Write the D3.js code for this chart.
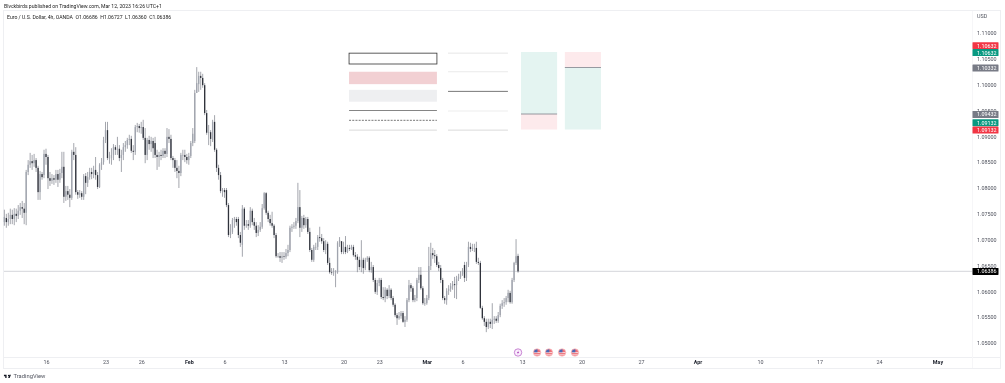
<!DOCTYPE html>
<html>
<head>
<meta charset="utf-8">
<script src="https://cdnjs.cloudflare.com/ajax/libs/d3/7.8.5/d3.min.js"></script>
<style>
  html, body { margin: 0; background: #fff; }
  svg { display: block; font-family: Roboto, sans-serif; filter: blur(0.35px); }
</style>
</head>
<body>
<div id="chart"></div>
<script>
// EURUSD 4h bars
const opens = [
  1.0734,1.0742,1.0734,1.0740,1.0748,1.0740,1.0750,1.0746,1.0756,1.0763,
  1.0760,1.0752,1.0831,1.0845,1.0852,1.0848,1.0854,1.0839,1.0792,1.0827,
  1.0825,1.0866,1.0860,1.0819,1.0814,1.0819,1.0816,1.0827,1.0816,1.0829,
  1.0841,1.0783,1.0794,1.0787,1.0781,1.0870,1.0864,1.0792,1.0787,1.0790,
  1.0783,1.0823,1.0810,1.0821,1.0831,1.0827,1.0835,1.0825,1.0802,1.0845,
  1.0850,1.0893,1.0912,1.0858,1.0858,1.0864,1.0879,1.0874,1.0876,1.0858,
  1.0864,1.0879,1.0883,1.0893,1.0895,1.0872,1.0870,1.0918,1.0920,1.0916,
  1.0918,1.0897,1.0864,1.0893,1.0885,1.0891,1.0887,1.0864,1.0860,1.0864,
  1.0862,1.0872,1.0866,1.0899,1.0895,1.0858,1.0854,1.0839,1.0833,1.0829,
  1.0864,1.0864,1.0860,1.0854,1.0862,1.0887,1.0891,1.0984,1.1001,1.1017,
  1.1013,1.0999,1.0945,1.0907,1.0908,1.0893,1.0928,1.0874,1.0839,1.0825,
  1.0794,1.0796,1.0796,1.0767,1.0709,1.0715,1.0738,1.0740,1.0740,1.0709,
  1.0690,1.0760,1.0727,1.0730,1.0727,1.0756,1.0734,1.0727,1.0713,1.0719,
  1.0725,1.0761,1.0790,1.0752,1.0740,1.0732,1.0727,1.0709,1.0668,1.0668,
  1.0665,1.0668,1.0667,1.0674,1.0680,1.0723,1.0725,1.0727,1.0736,1.0763,
  1.0723,1.0742,1.0728,1.0740,1.0715,1.0680,1.0661,1.0686,1.0686,1.0705,
  1.0703,1.0697,1.0680,1.0692,1.0655,1.0637,1.0636,1.0636,1.0637,1.0694,
  1.0697,1.0676,1.0686,1.0676,1.0684,1.0682,1.0686,1.0670,1.0667,1.0661,
  1.0647,1.0661,1.0645,1.0661,1.0665,1.0641,1.0647,1.0622,1.0599,1.0616,
  1.0622,1.0589,1.0587,1.0603,1.0591,1.0603,1.0587,1.0574,1.0554,1.0548,
  1.0552,1.0558,1.0541,1.0545,1.0583,1.0612,1.0606,1.0583,1.0587,1.0622,
  1.0632,1.0606,1.0577,1.0577,1.0587,1.0649,1.0674,1.0670,1.0668,1.0651,
  1.0645,1.0622,1.0587,1.0583,1.0601,1.0605,1.0610,1.0614,1.0612,1.0624,
  1.0628,1.0634,1.0651,1.0626,1.0651,1.0686,1.0682,1.0684,1.0684,1.0657,
  1.0655,1.0568,1.0548,1.0541,1.0531,1.0541,1.0537,1.0545,1.0547,1.0543,
  1.0554,1.0572,1.0577,1.0579,1.0587,1.0597,1.0579,1.0622,1.0655,1.06686,
]
const highs = [
  1.0758,1.0750,1.0752,1.0760,1.0758,1.0761,1.0760,1.0767,1.0771,1.0775,
  1.0771,1.0835,1.0854,1.0868,1.0864,1.0866,1.0858,1.0843,1.0833,1.0831,
  1.0874,1.0876,1.0864,1.0831,1.0827,1.0825,1.0835,1.0835,1.0837,1.0870,
  1.0870,1.0804,1.0804,1.0798,1.0874,1.0887,1.0879,1.0796,1.0796,1.0794,
  1.0827,1.0829,1.0831,1.0839,1.0839,1.0843,1.0860,1.0831,1.0848,1.0858,
  1.0899,1.0928,1.0928,1.0870,1.0877,1.0885,1.0883,1.0899,1.0883,1.0874,
  1.0887,1.0891,1.0897,1.0903,1.0901,1.0883,1.0922,1.0926,1.0924,1.0928,
  1.0932,1.0916,1.0897,1.0901,1.0899,1.0897,1.0899,1.0874,1.0870,1.0874,
  1.0877,1.0877,1.0916,1.0914,1.0903,1.0862,1.0858,1.0854,1.0843,1.0868,
  1.0874,1.0874,1.0866,1.0868,1.0891,1.0916,1.0990,1.1034,1.1025,1.1025,
  1.1021,1.1003,1.0951,1.0922,1.0912,1.0932,1.0941,1.0877,1.0845,1.0831,
  1.0800,1.0800,1.0800,1.0771,1.0730,1.0742,1.0744,1.0744,1.0744,1.0715,
  1.0767,1.0763,1.0738,1.0738,1.0763,1.0760,1.0742,1.0734,1.0728,1.0734,
  1.0769,1.0792,1.0792,1.0756,1.0748,1.0754,1.0730,1.0713,1.0674,1.0676,
  1.0676,1.0676,1.0682,1.0690,1.0727,1.0730,1.0734,1.0742,1.0810,1.0796,
  1.0746,1.0748,1.0744,1.0744,1.0723,1.0684,1.0690,1.0694,1.0709,1.0725,
  1.0711,1.0703,1.0699,1.0696,1.0665,1.0645,1.0645,1.0641,1.0697,1.0705,
  1.0697,1.0696,1.0707,1.0690,1.0690,1.0690,1.0690,1.0676,1.0672,1.0667,
  1.0699,1.0665,1.0665,1.0668,1.0668,1.0657,1.0651,1.0626,1.0622,1.0626,
  1.0626,1.0608,1.0608,1.0606,1.0612,1.0606,1.0591,1.0577,1.0558,1.0560,
  1.0562,1.0562,1.0552,1.0587,1.0622,1.0616,1.0610,1.0593,1.0626,1.0647,
  1.0647,1.0610,1.0587,1.0593,1.0686,1.0694,1.0684,1.0680,1.0672,1.0657,
  1.0651,1.0626,1.0591,1.0606,1.0612,1.0616,1.0620,1.0628,1.0630,1.0634,
  1.0639,1.0645,1.0657,1.0657,1.0696,1.0694,1.0692,1.0692,1.0696,1.0665,
  1.0659,1.0572,1.0552,1.0547,1.0547,1.0547,1.0577,1.0552,1.0552,1.0560,
  1.0576,1.0583,1.0587,1.0591,1.0603,1.0601,1.0626,1.0657,1.0701,1.06727,
]
const lows = [
  1.0727,1.0723,1.0727,1.0730,1.0730,1.0728,1.0734,1.0740,1.0748,1.0742,
  1.0730,1.0728,1.0825,1.0839,1.0835,1.0841,1.0831,1.0777,1.0777,1.0816,
  1.0819,1.0845,1.0798,1.0804,1.0808,1.0806,1.0810,1.0802,1.0810,1.0819,
  1.0771,1.0775,1.0777,1.0763,1.0777,1.0854,1.0787,1.0779,1.0781,1.0777,
  1.0777,1.0788,1.0802,1.0816,1.0817,1.0819,1.0816,1.0798,1.0800,1.0835,
  1.0845,1.0887,1.0854,1.0847,1.0845,1.0854,1.0864,1.0864,1.0852,1.0831,
  1.0854,1.0870,1.0876,1.0883,1.0868,1.0854,1.0864,1.0908,1.0907,1.0905,
  1.0893,1.0848,1.0854,1.0874,1.0870,1.0858,1.0858,1.0835,1.0841,1.0854,
  1.0858,1.0858,1.0860,1.0887,1.0854,1.0839,1.0831,1.0819,1.0800,1.0823,
  1.0854,1.0850,1.0847,1.0845,1.0858,1.0881,1.0887,1.0984,1.0986,1.0990,
  1.0994,1.0941,1.0903,1.0883,1.0881,1.0889,1.0870,1.0831,1.0816,1.0790,
  1.0783,1.0781,1.0763,1.0705,1.0703,1.0711,1.0723,1.0727,1.0703,1.0686,
  1.0667,1.0719,1.0723,1.0719,1.0723,1.0728,1.0719,1.0705,1.0707,1.0715,
  1.0721,1.0758,1.0748,1.0734,1.0727,1.0723,1.0703,1.0665,1.0665,1.0657,
  1.0655,1.0661,1.0663,1.0668,1.0676,1.0715,1.0721,1.0721,1.0732,1.0705,
  1.0715,1.0721,1.0723,1.0711,1.0676,1.0657,1.0657,1.0680,1.0680,1.0696,
  1.0692,1.0676,1.0672,1.0651,1.0634,1.0632,1.0630,1.0608,1.0634,1.0686,
  1.0672,1.0672,1.0672,1.0674,1.0678,1.0680,1.0667,1.0661,1.0637,1.0641,
  1.0637,1.0634,1.0641,1.0657,1.0637,1.0636,1.0618,1.0595,1.0593,1.0610,
  1.0585,1.0583,1.0579,1.0585,1.0587,1.0583,1.0570,1.0550,1.0535,1.0545,
  1.0547,1.0539,1.0531,1.0541,1.0579,1.0599,1.0579,1.0579,1.0581,1.0616,
  1.0603,1.0574,1.0572,1.0574,1.0583,1.0641,1.0663,1.0655,1.0647,1.0639,
  1.0616,1.0583,1.0576,1.0574,1.0593,1.0599,1.0603,1.0587,1.0585,1.0620,
  1.0624,1.0630,1.0618,1.0620,1.0647,1.0676,1.0678,1.0676,1.0653,1.0651,
  1.0566,1.0545,1.0533,1.0521,1.0527,1.0529,1.0527,1.0537,1.0539,1.0539,
  1.0550,1.0566,1.0570,1.0574,1.0579,1.0576,1.0576,1.0618,1.0651,1.06360,
]
const closes = [
  1.0744,1.0734,1.0740,1.0748,1.0740,1.0750,1.0746,1.0756,1.0763,1.0760,
  1.0752,1.0831,1.0845,1.0852,1.0848,1.0854,1.0839,1.0792,1.0827,1.0821,
  1.0866,1.0860,1.0819,1.0814,1.0819,1.0816,1.0827,1.0816,1.0829,1.0841,
  1.0783,1.0794,1.0787,1.0781,1.0870,1.0864,1.0792,1.0787,1.0790,1.0783,
  1.0823,1.0810,1.0821,1.0831,1.0827,1.0835,1.0825,1.0802,1.0845,1.0850,
  1.0893,1.0912,1.0858,1.0858,1.0864,1.0879,1.0874,1.0876,1.0858,1.0864,
  1.0879,1.0883,1.0893,1.0895,1.0872,1.0870,1.0918,1.0920,1.0916,1.0918,
  1.0897,1.0864,1.0893,1.0885,1.0891,1.0877,1.0864,1.0860,1.0864,1.0862,
  1.0872,1.0866,1.0899,1.0895,1.0858,1.0854,1.0839,1.0833,1.0829,1.0864,
  1.0864,1.0860,1.0854,1.0862,1.0887,1.0905,1.0984,1.1003,1.1017,1.1013,
  1.0999,1.0945,1.0907,1.0908,1.0895,1.0928,1.0874,1.0839,1.0825,1.0794,
  1.0796,1.0792,1.0767,1.0709,1.0715,1.0738,1.0740,1.0734,1.0709,1.0694,
  1.0760,1.0727,1.0730,1.0727,1.0756,1.0734,1.0727,1.0713,1.0719,1.0725,
  1.0761,1.0790,1.0752,1.0740,1.0732,1.0727,1.0709,1.0668,1.0668,1.0665,
  1.0668,1.0667,1.0674,1.0680,1.0723,1.0725,1.0727,1.0736,1.0763,1.0723,
  1.0742,1.0728,1.0740,1.0715,1.0680,1.0661,1.0686,1.0686,1.0705,1.0703,
  1.0697,1.0680,1.0692,1.0655,1.0637,1.0636,1.0636,1.0637,1.0694,1.0699,
  1.0676,1.0686,1.0676,1.0684,1.0682,1.0686,1.0670,1.0667,1.0661,1.0647,
  1.0661,1.0645,1.0661,1.0665,1.0641,1.0647,1.0622,1.0599,1.0616,1.0622,
  1.0589,1.0587,1.0603,1.0591,1.0603,1.0587,1.0574,1.0554,1.0548,1.0552,
  1.0558,1.0541,1.0545,1.0583,1.0612,1.0606,1.0583,1.0587,1.0622,1.0632,
  1.0606,1.0577,1.0577,1.0587,1.0649,1.0674,1.0670,1.0668,1.0651,1.0645,
  1.0622,1.0587,1.0583,1.0601,1.0605,1.0610,1.0614,1.0612,1.0624,1.0628,
  1.0634,1.0637,1.0626,1.0651,1.0686,1.0682,1.0684,1.0684,1.0657,1.0655,
  1.0568,1.0548,1.0541,1.0531,1.0541,1.0537,1.0545,1.0547,1.0543,1.0554,
  1.0572,1.0577,1.0579,1.0587,1.0597,1.0579,1.0622,1.0655,1.0668,1.06386,
]

const priceTicks = [1.11, 1.105, 1.1, 1.095, 1.09, 1.085, 1.08, 1.075, 1.07, 1.065, 1.06, 1.055, 1.05]

// bar numbers of the time axis labels, counted from the first bar
const timeTicks = [21, 51, 69, 93, 111, 141, 171, 189, 213, 231, 261, 291, 321, 349.5, 381, 411, 441, 470.5]
const timeLabels = ['16', '23', '26', 'Feb', '6', '13', '20', '23', 'Mar', '6', '13', '20', '27', 'Apr', '10', '17', '24', 'May']
const monthLabels = ['Feb', 'Mar', 'Apr', 'May']

// price tags on the right scale
const tagPrices = [1.10632, 1.10632, 1.10332, 1.09432, 1.09132, 1.09132, 1.06386]
const tagColors = ['#f23645', '#089981', '#787b86', '#787b86', '#089981', '#f23645', '#000']
const tagNudges = [-6.3, 0.6, 0.5, 0.5, -6.8, 0.5, 0]

const lastPrice = 1.06386

// drawings, left block: rectangles and lines
const boxBars = [173.8, 218.1]
const boxTops = [1.1061, 1.1025, 1.099]
const boxBottoms = [1.104, 1.1001, 1.0967]
const boxFills = ['#fff', '#f2d0d3', '#eeeff1']
const boxStrokes = ['#333', 'none', 'none']
const leftLines = [1.095, 1.0931, 1.0912]
const leftLineColors = ['#666', '#555', '#d0d0d0']
const leftLineDashes = ['none', '2 1.2', 'none']

// drawings, middle block: fibonacci style levels
const levelBars = [223.7, 253.9]
const levelPrices = [1.1061, 1.1025, 1.0987, 1.0949, 1.0912]
const levelColors = ['#dedede', '#e4e4e4', '#555', '#e8e8e8', '#d0d0d0']

// drawings, right block: long and short position tools
const positionBars = [[260.5, 278.7], [282.6, 300.8]]
const positionTop = 1.10632
const positionEntries = [1.09432, 1.10332]
const positionBottom = 1.09132
const positionTopFills = ['#e4f4f1', '#fdeaec']
const positionBottomFills = ['#fdeaec', '#e4f4f1']

// event markers below the candles
const dividendBars = [259]
const flagBars = [268.6, 274.6, 281.2, 287.7]

const width = 1005
const height = 383
const paneLeft = 4
const paneRight = 972
const paneTop = 11
const paneBottom = 357
const frameRight = 1000
const frameBottom = 368

const upColor = '#a0a4ae'
const downColor = '#2f323b'
const wickColor = '#7d808a'
const textColor = '#50535e'

const xScale = d3.scaleLinear().domain([0, 471]).range([4.36, 938.5])
const yScale = d3.scaleLinear().domain([1.05, 1.11]).range([343, 33])

const svg = d3
  .select('#chart')
  .append('svg')
  .attr('width', width)
  .attr('height', height)

svg
  .append('text')
  .attr('x', paneLeft)
  .attr('y', 7.8)
  .attr('font-size', 5.15)
  .attr('fill', '#222')
  .text('Blvckbirds published on TradingView.com, Mar 12, 2023 16:26 UTC+1')

// frame
const frame = svg.append('g').attr('stroke', '#eeeff2').attr('fill', 'none')
frame
  .append('rect')
  .attr('x', paneLeft - 0.5)
  .attr('y', paneTop - 0.5)
  .attr('width', frameRight - paneLeft + 1)
  .attr('height', frameBottom - paneTop + 1)
frame
  .append('path')
  .attr('d', d3.line()([[paneLeft, paneBottom + 0.5], [frameRight, paneBottom + 0.5]]))
frame
  .append('path')
  .attr('d', d3.line()([[paneRight + 0.5, paneTop], [paneRight + 0.5, frameBottom]]))
  .attr('stroke', '#f6f6f8')

// last price line
svg
  .append('line')
  .attr('x1', paneLeft)
  .attr('x2', paneRight)
  .attr('y1', yScale(lastPrice))
  .attr('y2', yScale(lastPrice))
  .attr('stroke', '#dcdde1')
  .attr('stroke-width', 1.2)

// left block
const drawings = svg.append('g').attr('class', 'drawings')
drawings
  .selectAll('rect.box')
  .data(boxTops)
  .join('rect')
  .attr('class', 'box')
  .attr('x', xScale(boxBars[0]))
  .attr('width', xScale(boxBars[1]) - xScale(boxBars[0]))
  .attr('y', d => yScale(d))
  .attr('height', (d, i) => yScale(boxBottoms[i]) - yScale(d))
  .attr('fill', (d, i) => boxFills[i])
  .attr('stroke', (d, i) => boxStrokes[i])
  .attr('stroke-width', 0.8)

drawings
  .selectAll('line.left-line')
  .data(leftLines)
  .join('line')
  .attr('class', 'left-line')
  .attr('x1', xScale(boxBars[0]))
  .attr('x2', xScale(boxBars[1]))
  .attr('y1', d => yScale(d))
  .attr('y2', d => yScale(d))
  .attr('stroke', (d, i) => leftLineColors[i])
  .attr('stroke-width', 0.8)
  .attr('stroke-dasharray', (d, i) => leftLineDashes[i])

drawings
  .selectAll('line.level')
  .data(levelPrices)
  .join('line')
  .attr('class', 'level')
  .attr('x1', xScale(levelBars[0]))
  .attr('x2', xScale(levelBars[1]))
  .attr('y1', d => yScale(d))
  .attr('y2', d => yScale(d))
  .attr('stroke', (d, i) => levelColors[i])
  .attr('stroke-width', 0.8)

// position tools
positionBars.forEach((bars, i) => {
  const x = xScale(bars[0])
  const w = xScale(bars[1]) - x
  const entry = yScale(positionEntries[i])
  const g = drawings.append('g').attr('class', 'position')
  g.append('rect')
    .attr('x', x)
    .attr('width', w)
    .attr('y', yScale(positionTop))
    .attr('height', entry - yScale(positionTop))
    .attr('fill', positionTopFills[i])
  g.append('rect')
    .attr('x', x)
    .attr('width', w)
    .attr('y', entry)
    .attr('height', yScale(positionBottom) - entry)
    .attr('fill', positionBottomFills[i])
  g.append('line')
    .attr('x1', x)
    .attr('x2', x + w)
    .attr('y1', entry)
    .attr('y2', entry)
    .attr('stroke', '#7f828a')
    .attr('stroke-width', 0.8)
})

// candles
const bars = d3.range(closes.length)
const candles = svg.append('g').attr('class', 'candles')
candles
  .selectAll('line')
  .data(bars)
  .join('line')
  .attr('x1', i => xScale(i))
  .attr('x2', i => xScale(i))
  .attr('y1', i => yScale(highs[i]))
  .attr('y2', i => yScale(lows[i]))
  .attr('stroke', wickColor)
  .attr('stroke-width', 0.7)

candles
  .selectAll('rect')
  .data(bars)
  .join('rect')
  .attr('x', i => xScale(i) - 0.65)
  .attr('width', 1.3)
  .attr('y', i => yScale(Math.max(opens[i], closes[i])))
  .attr('height', i => Math.max(0.6, Math.abs(yScale(opens[i]) - yScale(closes[i]))))
  .attr('fill', i => (closes[i] >= opens[i] ? upColor : downColor))

// price axis
const yAxis = d3
  .axisRight(yScale)
  .tickValues(priceTicks)
  .tickFormat(d3.format('.5f'))
  .tickSize(0)
  .tickPadding(0)

svg
  .append('g')
  .attr('class', 'y-axis')
  .attr('transform', 'translate(977, 0)')
  .call(yAxis)
  .call(g => {
    g.select('.domain').remove()
    g.selectAll('.tick text')
      .attr('fill', textColor)
      .style('font-size', '5.4px')
      .style('font-family', 'Roboto, sans-serif')
  })

svg
  .append('text')
  .attr('x', 977)
  .attr('y', 18)
  .attr('font-size', 5.4)
  .attr('fill', textColor)
  .text('USD')

// price tags
const tags = svg
  .selectAll('g.tag')
  .data(tagPrices)
  .join('g')
  .attr('class', 'tag')
  .attr('transform', (d, i) => `translate(0, ${yScale(d) + tagNudges[i]})`)

tags
  .append('rect')
  .attr('x', 972.5)
  .attr('y', -3.5)
  .attr('width', 26)
  .attr('height', 7)
  .attr('rx', 0.6)
  .attr('fill', (d, i) => tagColors[i])

tags
  .append('text')
  .attr('x', 977)
  .attr('y', 1.9)
  .attr('font-size', 5.4)
  .attr('fill', '#fff')
  .text(d => d3.format('.5f')(d))

// time axis
const xAxis = d3
  .axisBottom(xScale)
  .tickValues(timeTicks)
  .tickFormat((d, i) => timeLabels[i])
  .tickSize(0)
  .tickPadding(0)

svg
  .append('g')
  .attr('class', 'x-axis')
  .attr('transform', 'translate(0, 360.5)')
  .call(xAxis)
  .call(g => {
    g.select('.domain').remove()
    g.selectAll('.tick text')
      .attr('fill', (d, i) => (monthLabels.includes(timeLabels[i]) ? '#1e222d' : textColor))
      .style('font-weight', (d, i) => (monthLabels.includes(timeLabels[i]) ? 'bold' : 'normal'))
      .style('font-size', '5.4px')
      .style('font-family', 'Roboto, sans-serif')
  })

// event markers
const markerY = 352.5
const dividends = svg
  .selectAll('g.dividend')
  .data(dividendBars)
  .join('g')
  .attr('class', 'dividend')
  .attr('transform', d => `translate(${xScale(d)}, ${markerY})`)

dividends
  .append('circle')
  .attr('r', 3.7)
  .attr('fill', '#fbeefd')
  .attr('stroke', '#ba68c8')
  .attr('stroke-width', 0.8)

dividends
  .append('path')
  .attr('d', 'M0.8,-2.2 L-1.2,0.5 L-0.1,0.5 L-0.8,2.2 L1.2,-0.5 L0.1,-0.5 Z')
  .attr('fill', '#ab47bc')

svg
  .append('defs')
  .append('clipPath')
  .attr('id', 'flag-clip')
  .append('circle')
  .attr('r', 3.4)

const flags = svg
  .selectAll('g.flag')
  .data(flagBars)
  .join('g')
  .attr('class', 'flag')
  .attr('transform', d => `translate(${xScale(d)}, ${markerY})`)

const flagInner = flags.append('g').attr('clip-path', 'url(#flag-clip)')
flagInner
  .append('rect')
  .attr('x', -4)
  .attr('y', -4)
  .attr('width', 8)
  .attr('height', 8)
  .attr('fill', '#ec6f78')
flagInner
  .append('rect')
  .attr('x', -4)
  .attr('y', -0.4)
  .attr('width', 8)
  .attr('height', 1)
  .attr('fill', '#f9d9db')
flagInner
  .append('rect')
  .attr('x', -4)
  .attr('y', 1.8)
  .attr('width', 8)
  .attr('height', 1)
  .attr('fill', '#f9d9db')
flagInner
  .append('rect')
  .attr('x', -4)
  .attr('y', -4)
  .attr('width', 4.4)
  .attr('height', 3.8)
  .attr('fill', '#4a68b5')

flags
  .append('circle')
  .attr('r', 3.7)
  .attr('fill', 'none')
  .attr('stroke', '#f7a9ae')
  .attr('stroke-width', 0.8)

// symbol line
svg
  .append('text')
  .attr('x', 7)
  .attr('y', 19)
  .attr('font-size', 5.15)
  .attr('fill', '#222')
  .attr('xml:space', 'preserve')
  .style('white-space', 'pre')
  .text('Euro / U.S. Dollar, 4h, OANDA  O1.06686  H1.06727  L1.06360  C1.06386')

// TradingView logo
svg
  .append('path')
  .attr('transform', 'translate(3.5, 373.5) scale(0.22)')
  .attr('d', 'M14 6H2v6h6v9h6V6zm14 15h-7l6-15h7l-6 15zm-5-9a3 3 0 1 0 0-6 3 3 0 0 0 0 6z')
  .attr('fill', '#131722')

svg
  .append('text')
  .attr('x', 13.5)
  .attr('y', 378.2)
  .attr('font-size', 5.8)
  .attr('fill', textColor)
  .text('TradingView')
</script>
</body>
</html>
